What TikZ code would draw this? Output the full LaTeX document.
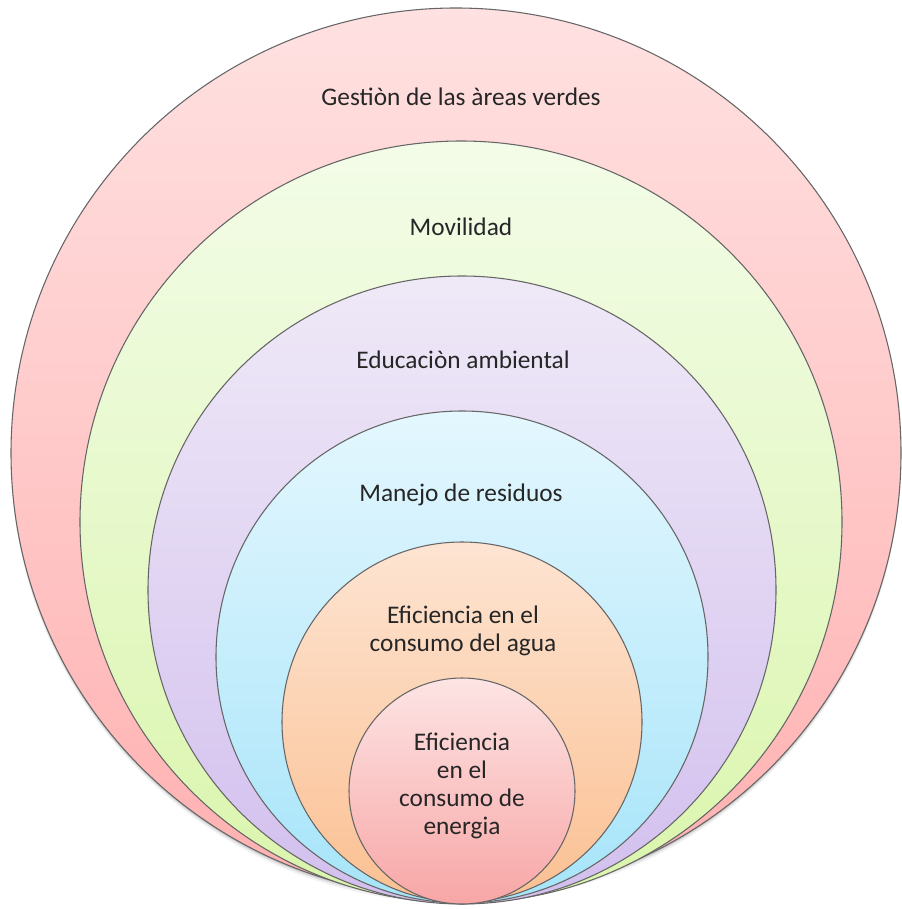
\documentclass[tikz,border=0pt]{standalone}
\usepackage{fontspec}
\setmainfont{Carlito}

\definecolor{verdesTop}{HTML}{FFE1E1}
\definecolor{verdesBot}{HTML}{FFB0B0}
\definecolor{moviTop}{HTML}{F3FCE8}
\definecolor{moviBot}{HTML}{DAF5AC}
\definecolor{educTop}{HTML}{EFE9F7}
\definecolor{educBot}{HTML}{D2BFEE}
\definecolor{resiTop}{HTML}{E4F7FE}
\definecolor{resiBot}{HTML}{A6E4F9}
\definecolor{aguaTop}{HTML}{FDE4D2}
\definecolor{aguaBot}{HTML}{FBC092}
\definecolor{enerTop}{HTML}{FDE4E4}
\definecolor{enerBot}{HTML}{F8A6A6}

\begin{document}
\begin{tikzpicture}[x=0.75pt,y=-0.75pt,
    ring/.style={draw=black!60, line width=0.8pt},
    lbl/.style={text=black!85, font=\fontsize{19}{21}\selectfont, align=center, inner sep=0pt}]
    \useasboundingbox (0,0) rectangle (901,909);

    % soft shadow under the rings
    \foreach \s/\o in {5/0.05,3/0.08,1.5/0.12}
        \fill[black, opacity=\o] (456,453+\s) circle (445);

    % rings, outer to inner
    \shade[ring, top color=verdesTop, bottom color=verdesBot] (456,453) circle (445);
    \shade[ring, top color=moviTop, bottom color=moviBot] (461,522) circle (381);
    \shade[ring, top color=educTop, bottom color=educBot] (462,590) circle (314);
    \shade[ring, top color=resiTop, bottom color=resiBot] (462,657) circle (246);
    \shade[ring, top color=aguaTop, bottom color=aguaBot] (462,722) circle (180);
    \shade[ring, top color=enerTop, bottom color=enerBot] (462,791) circle (113);

    \node[lbl] (verdes) at (461,97) {Gestiòn de las àreas verdes};
    \node[lbl] (movilidad) at (461,227) {Movilidad};
    \node[lbl] (educacion) at (463,360) {Educaciòn ambiental};
    \node[lbl] (residuos) at (461,495) {Manejo de residuos};
    \node[lbl] (agua) at (463,631) {Eficiencia en el\\consumo del agua};
    \node[lbl] (energia) at (462,786) {Eficiencia\\en el\\consumo de\\energia};
\end{tikzpicture}
\end{document}
